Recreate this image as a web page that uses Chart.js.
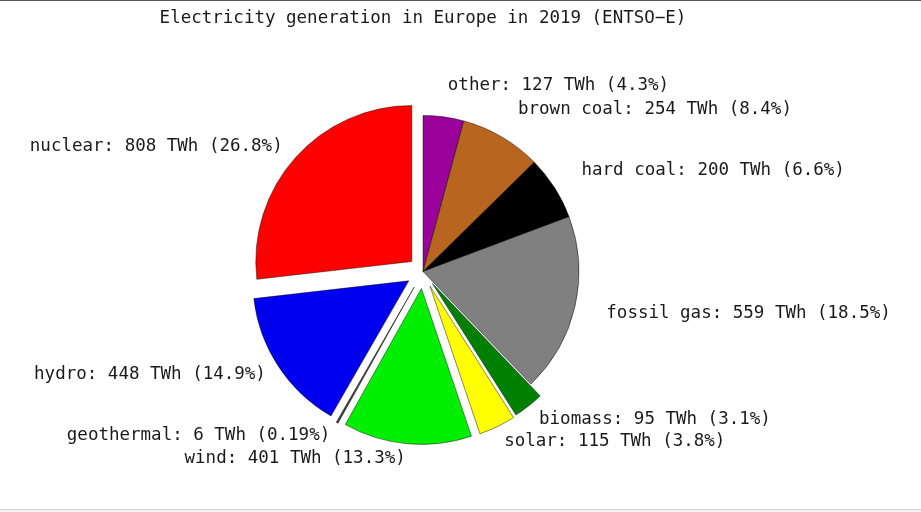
<!DOCTYPE html>
<html>
<head>
<meta charset="utf-8">
<script src="https://cdn.jsdelivr.net/npm/chart.js@4/dist/chart.umd.min.js"></script>
<style>
  html, body { margin: 0; padding: 0; background: #fff; }
  #wrap { position: relative; width: 921px; height: 512px; overflow: hidden; }
  #topline { position: absolute; left: 0; top: 0; width: 921px; height: 1px; background: #555; }
  #botline { position: absolute; left: 0; top: 509px; width: 921px; height: 3px; background: #f2f2f2; border-top: 1px solid #d4d4d4; box-sizing: border-box; }
</style>
</head>
<body>
<div id="wrap">
  <canvas id="c" width="921" height="512"></canvas>
  <div id="topline"></div>
  <div id="botline"></div>
</div>
<script>
// ---- data ----
const categories = ["other", "brown coal", "hard coal", "fossil gas", "biomass", "solar", "wind", "geothermal", "hydro", "nuclear"];
const generationTWh = [127, 254, 200, 559, 95, 115, 401, 6, 448, 808];
const shareLabels = ["4.3%", "8.4%", "6.6%", "18.5%", "3.1%", "3.8%", "13.3%", "0.19%", "14.9%", "26.8%"];
const chartTitle = "Electricity generation in Europe in 2019 (ENTSO\u2212E)";

// ---- styles ----
const sliceColors = ["#9a009a", "#b8661f", "#000000", "#808080", "#008000", "#ffff00", "#00ee00", "#444444", "#0000f0", "#ff0000"];
const explodePx = [0, 0, 0, 0, 15, 16, 17, 18, 17, 15];
const FONT = '"DejaVu Sans Mono", "Liberation Mono", monospace';
const PIE_RADIUS = 156;
const LABEL_DIST = 188;

const explodePlugin = {
  id: 'explode',
  beforeDatasetDraw(chart, args) {
    const ctx = chart.ctx;
    args.meta.data.forEach((arc, i) => {
      const d = explodePx[i] || 0;
      const mid = (arc.startAngle + arc.endAngle) / 2;
      ctx.save();
      ctx.translate(Math.cos(mid) * d, Math.sin(mid) * d);
      arc.draw(ctx);
      ctx.restore();
    });
    return false;
  }
};

const labelPlugin = {
  id: 'sliceLabels',
  afterDatasetsDraw(chart) {
    const ctx = chart.ctx;
    const meta = chart.getDatasetMeta(0);
    ctx.save();
    ctx.font = '17.5px ' + FONT;
    ctx.fillStyle = '#1a1a1a';
    ctx.textBaseline = 'middle';
    meta.data.forEach((arc, i) => {
      const mid = (arc.startAngle + arc.endAngle) / 2;
      const x = arc.x + Math.cos(mid) * LABEL_DIST;
      const y = arc.y + Math.sin(mid) * LABEL_DIST;
      ctx.textAlign = Math.cos(mid) >= 0 ? 'left' : 'right';
      const txt = categories[i] + ': ' + generationTWh[i] + ' TWh (' + shareLabels[i] + ')';
      ctx.fillText(txt, x, y);
    });
    ctx.restore();
  }
};

new Chart(document.getElementById('c'), {
  type: 'pie',
  data: {
    labels: categories,
    datasets: [{
      data: generationTWh,
      backgroundColor: sliceColors,
      borderColor: 'rgba(0,0,0,0.45)',
      borderWidth: 1,
      radius: PIE_RADIUS
    }]
  },
  options: {
    responsive: false,
    animation: false,
    layout: { padding: { left: 0, right: 75, top: 0, bottom: 0 } },
    plugins: {
      legend: { display: false },
      tooltip: { enabled: false },
      title: {
        display: true,
        text: chartTitle,
        color: '#1a1a1a',
        font: { family: FONT, size: 17.5, weight: 'normal', lineHeight: 1.0 },
        padding: { top: 10, bottom: 3.5 }
      }
    }
  },
  plugins: [explodePlugin, labelPlugin]
});
</script>
</body>
</html>
